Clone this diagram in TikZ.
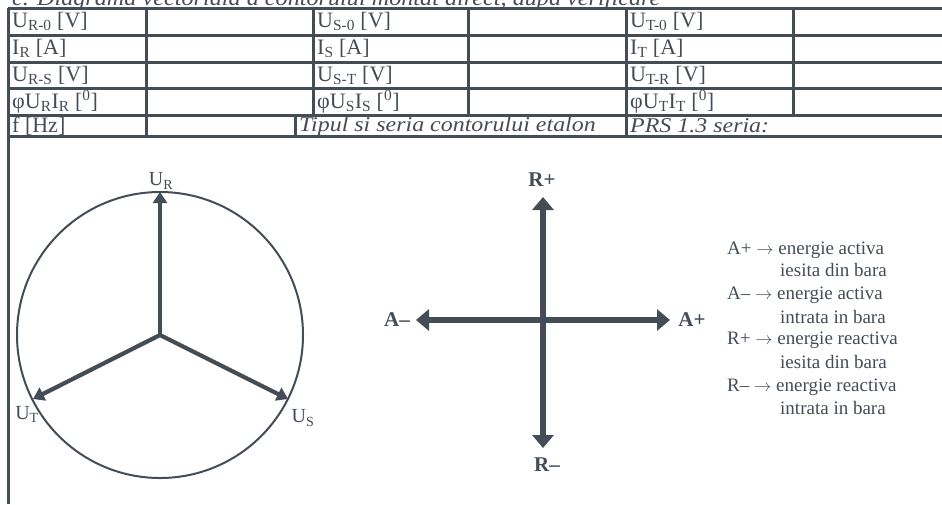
\documentclass[tikz,border=0pt]{standalone}
\usepackage{fontspec}
\setmainfont{Liberation Serif}
\usepackage{xcolor}
\definecolor{ink}{RGB}{68,76,86}
\usepackage{tikz}
\usetikzlibrary{arrows.meta,positioning}

\begin{document}
\begin{tikzpicture}[
  x=1pt, y=-1pt,
  rule/.style={draw=ink, line width=3pt},
  cell/.style={anchor=west, inner sep=0pt, text=ink, font=\fontsize{22}{24}\selectfont},
  icell/.style={cell, font=\fontsize{21}{22}\selectfont\itshape\addfontfeatures{FakeStretch=1.14}},
  ring/.style={draw=ink, line width=2pt},
  phasor/.style={-{Triangle[length=11pt, width=14pt]}, line width=4.2pt, draw=ink},
  axis/.style={{Triangle[length=13pt, width=21pt]}-{Triangle[length=13pt, width=21pt]}, line width=6pt, draw=ink},
  vlabel/.style={text=ink, inner sep=1pt, font=\fontsize{20}{22}\selectfont},
  alabel/.style={text=ink, inner sep=1pt, font=\fontsize{21}{22}\selectfont\bfseries},
  legend/.style={anchor=west, inner sep=0pt, text=ink, font=\fontsize{19}{21}\selectfont}
]
\useasboundingbox (0,0) rectangle (942,504);

\node[anchor=base west, inner sep=0pt, text=ink, font=\fontsize{22}{24}\selectfont\itshape\addfontfeatures{FakeStretch=1.1}] (title) at (12,5) {c. Diagrama vectoriala a contorului montat direct, dupa verificare};

\draw[rule] (8,8) -- (942,8);
\draw[rule] (8,35) -- (942,35);
\draw[rule] (8,62) -- (942,62);
\draw[rule] (8,88) -- (942,88);
\draw[rule] (8,115) -- (942,115);
\draw[rule] (8,136) -- (942,136);
\draw[rule] (8,8) -- (8,504);
\draw[rule] (146,8) -- (146,136);
\draw[rule] (313,8) -- (313,115);
\draw[rule] (468,8) -- (468,115);
\draw[rule] (626,8) -- (626,136);
\draw[rule] (793,8) -- (793,115);
\draw[rule] (295,115) -- (295,136);

\node[cell] (ur0) at (12,21.5) {U\textsubscript{R-0} [V]};
\node[cell] (us0) at (317,21.5) {U\textsubscript{S-0} [V]};
\node[cell] (ut0) at (630,21.5) {U\textsubscript{T-0} [V]};
\node[cell] (ir) at (12,48.5) {I\textsubscript{R} [A]};
\node[cell] (is) at (317,48.5) {I\textsubscript{S} [A]};
\node[cell] (it) at (630,48.5) {I\textsubscript{T} [A]};
\node[cell] (urs) at (12,75) {U\textsubscript{R-S} [V]};
\node[cell] (ust) at (317,75) {U\textsubscript{S-T} [V]};
\node[cell] (utr) at (630,75) {U\textsubscript{T-R} [V]};
\node[cell] (phir) at (12,101.5) {φU\textsubscript{R}I\textsubscript{R} [\textsuperscript{0}]};
\node[cell] (phis) at (317,101.5) {φU\textsubscript{S}I\textsubscript{S} [\textsuperscript{0}]};
\node[cell] (phit) at (630,101.5) {φU\textsubscript{T}I\textsubscript{T} [\textsuperscript{0}]};
\node[cell] (freq) at (12,126) {f [Hz]};
\node[icell] (etalon) at (299,126) {Tipul si seria contorului etalon};
\node[icell] (prs) at (630,126) {PRS 1.3 seria:};

\coordinate (N) at (160,335);
\draw[ring] (N) circle[radius=143];
\coordinate (tipR) at (160,192);
\coordinate (tipS) at (288,399);
\coordinate (tipT) at (33,399);
\draw[phasor] (N) -- (tipR);
\draw[phasor] (N) -- (tipS);
\draw[phasor] (N) -- (tipT);
\node[vlabel] (lUR) at (161,181) {U\textsubscript{R}};
\node[vlabel] (lUS) at (303,418) {U\textsubscript{S}};
\node[vlabel] (lUT) at (27,414) {U\textsubscript{T}};

\coordinate (top) at (543,197);
\coordinate (bot) at (543,448);
\coordinate (lft) at (416,320);
\coordinate (rgt) at (670,320);
\draw[axis] (bot) -- (top);
\draw[axis] (lft) -- (rgt);
\node[alabel] (Rp) at (542,180) {R+};
\node[alabel] (Rm) at (547,465) {R–};
\node[alabel] (Am) at (397,320) {A–};
\node[alabel] (Ap) at (692,320) {A+};

\node[legend] (ap1) at (727,250) {A+ $\rightarrow$ energie activa};
\node[legend] (ap2) at (780,270) {iesita din bara};
\node[legend] (am1) at (727,295) {A– $\rightarrow$ energie activa};
\node[legend] (am2) at (780,317) {intrata in bara};
\node[legend] (rp1) at (727,340) {R+ $\rightarrow$ energie reactiva};
\node[legend] (rp2) at (780,362) {iesita din bara};
\node[legend] (rm1) at (727,387) {R– $\rightarrow$ energie reactiva};
\node[legend] (rm2) at (780,408) {intrata in bara};
\end{tikzpicture}
\end{document}
